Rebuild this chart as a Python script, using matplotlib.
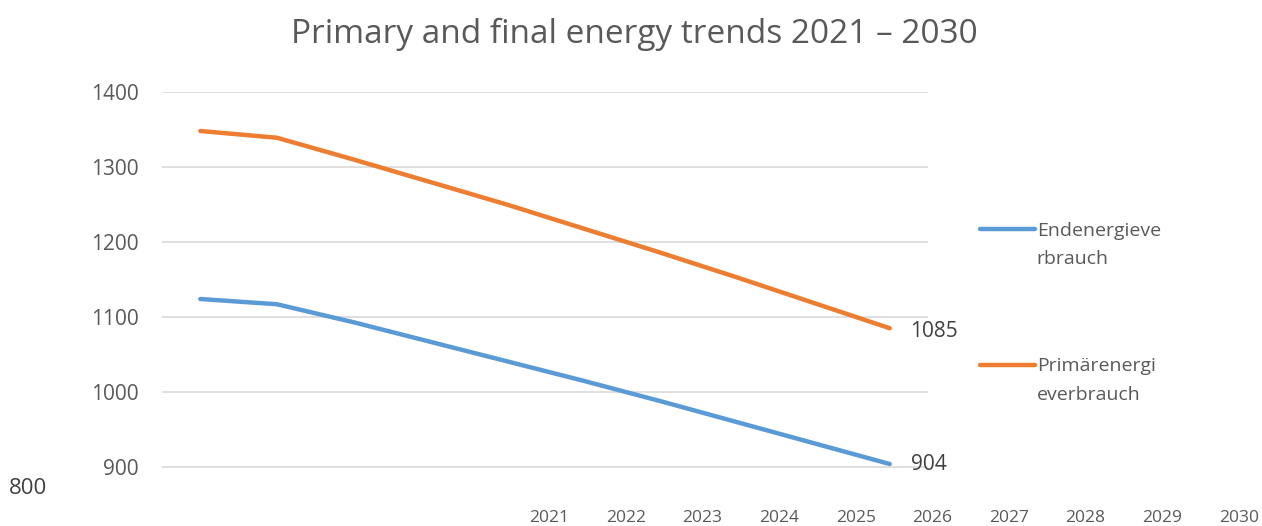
import numpy as np
import matplotlib
matplotlib.use('Agg')
import matplotlib.pyplot as plt
from matplotlib.legend_handler import HandlerLine2D
from matplotlib.lines import Line2D

plt.rcParams['font.family'] = ['Open Sans', 'DejaVu Sans']

# data
years = ['2021', '2022', '2023', '2024', '2025', '2026', '2027', '2028', '2029', '2030']
end_energy = [1124, 1117, 1093, 1067, 1041, 1015, 988, 960, 932, 904]
primary_energy = [1348, 1339, 1310, 1280, 1250, 1218, 1186, 1153, 1119, 1085]
y_ticks = [900, 1000, 1100, 1200, 1300, 1400]

label_end = 'Endenergieve\nrbrauch'
label_primary = 'Primärenergi\neverbrauch'
title = 'Primary and final energy trends 2021 – 2030'

BLUE = '#5B9BD5'
ORANGE = '#ED7D31'
TEXT = '#595959'
GRID = '#D9D9D9'

W, H = 1262, 526


class FirstLineHandler(HandlerLine2D):
    """Put the legend line next to the first line of a two-line label."""
    def create_artists(self, legend, orig_handle, xdescent, ydescent,
                       width, height, fontsize, trans):
        arts = super().create_artists(legend, orig_handle, xdescent, ydescent,
                                      width, height, fontsize, trans)
        for a in arts:
            if isinstance(a, Line2D):
                a.set_ydata(np.asarray(a.get_ydata()) + 0.8 * fontsize)
        return arts


fig = plt.figure(figsize=(W / 100, H / 100), dpi=100)

# main plot area
ax = fig.add_axes([162 / W, 1 - 497 / H, 766 / W, (497 - 92) / H])
x = np.arange(len(years))
l1, = ax.plot(x, end_energy, color=BLUE, lw=3.2, solid_capstyle='round', zorder=3)
l2, = ax.plot(x, primary_energy, color=ORANGE, lw=3.2, solid_capstyle='round', zorder=3)

ax.set_xlim(-0.5, len(years) - 0.5)
ax.set_ylim(860, 1400)
ax.set_yticks(y_ticks)
ax.set_yticklabels([str(v) for v in y_ticks], fontsize=15, color=TEXT)
ax.tick_params(axis='y', length=0, pad=17)
ax.set_xticks([])
ax.grid(axis='y', color=GRID, lw=1.2)
ax.set_axisbelow(True)
for s in ax.spines.values():
    s.set_visible(False)

# end-point data labels
ax.annotate(str(primary_energy[-1]), (x[-1], primary_energy[-1]), xytext=(15, -2),
            textcoords='offset points', fontsize=15, color='#404040', va='center')
ax.annotate(str(end_energy[-1]), (x[-1], end_energy[-1]), xytext=(15, 0),
            textcoords='offset points', fontsize=15, color='#404040', va='center')

# year labels sit shifted to the right, below the plot
ax_years = fig.add_axes([(162 + 349) / W, 1 - 507 / H, 766 / W, 0.001])
ax_years.set_xlim(-0.5, len(years) - 0.5)
ax_years.set_xticks(x)
ax_years.set_xticklabels(years, fontsize=12.5, color=TEXT)
ax_years.tick_params(axis='x', length=0, pad=2)
ax_years.set_yticks([])
for s in ax_years.spines.values():
    s.set_visible(False)
ax_years.patch.set_visible(False)

fig.text(28 / W, 1 - 489 / H, '800', fontsize=16, color='#404040', ha='center', va='center')

fig.text(0.503, 1 - 34 / H, title, fontsize=24, color=TEXT, ha='center', va='center')

leg = fig.legend([l1, l2], [label_end, label_primary],
                 loc='upper left', bbox_to_anchor=(962 / W, 1 - 204 / H),
                 frameon=False, fontsize=14, handlelength=2.85, handletextpad=0.1,
                 labelspacing=4.6, labelcolor=TEXT,
                 handler_map={Line2D: FirstLineHandler()})
for t in leg.get_texts():
    t.set_linespacing(1.75)

fig.savefig('out.png', dpi=100)
